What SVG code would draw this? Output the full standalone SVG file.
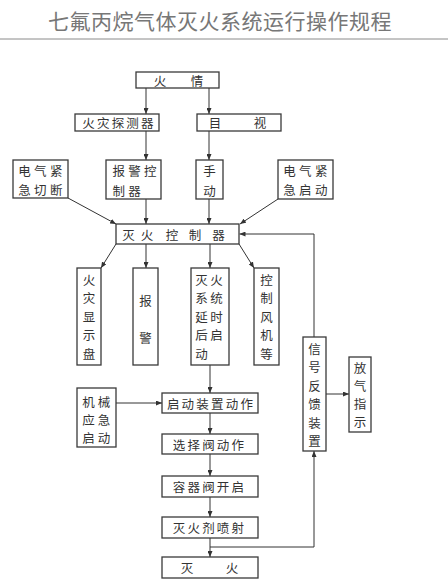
<svg xmlns="http://www.w3.org/2000/svg" width="448" height="588" viewBox="0 0 448 588">
<defs>
<marker id="arr" viewBox="0 0 6 5" refX="6" refY="2.5" markerWidth="6" markerHeight="5" markerUnits="userSpaceOnUse" orient="auto">
<path d="M0,0 L6,2.5 L0,5 z" fill="#333"/>
</marker>
<style>
.box{fill:#fff;stroke:#3a3a3a;stroke-width:1.3}
.t{font-family:"Noto Sans CJK SC","Noto Sans",sans-serif;font-size:12.5px;fill:#333;dominant-baseline:central}
.c{text-anchor:middle}
.ls{letter-spacing:3.3px}
.ls1{letter-spacing:2.2px}
.ln{fill:none;stroke:#333;stroke-width:1;marker-end:url(#arr)}
.title{font-family:"Noto Sans CJK SC","Noto Sans",sans-serif;font-size:21px;fill:#777;text-anchor:middle;letter-spacing:0.5px}
</style>
</defs>
<rect width="448" height="588" fill="#fff"/>
<text class="title" x="220" y="29">七氟丙烷气体灭火系统运行操作规程</text>
<line x1="0" y1="39" x2="448" y2="39" stroke="#8a8a8a" stroke-width="1"/>

<g id="connectors">
<path class="ln" d="M146 88 V114"/>
<path class="ln" d="M209 88 V114"/>
<path class="ln" d="M146 131 V160"/>
<path class="ln" d="M209 131 V160"/>
<path class="ln" d="M68 198 L116 224"/>
<path class="ln" d="M146 199 V224"/>
<path class="ln" d="M209 199 V224"/>
<path class="ln" d="M278 199 L240 224"/>
<path class="ln" d="M314 337 V234 H239.5"/>
<path class="ln" d="M116 244 L101 268"/>
<path class="ln" d="M146 244 V268"/>
<path class="ln" d="M210 244 V268"/>
<path class="ln" d="M239 244 L254 268"/>
<path class="ln" d="M210 365 V393"/>
<path class="ln" d="M116 403 H162"/>
<path class="ln" d="M210 413 V434"/>
<path class="ln" d="M210 454 V476"/>
<path class="ln" d="M210 497 V517"/>
<path class="ln" d="M210 538 V557"/>
<path class="ln" d="M210 547 H314 V451"/>
<path class="ln" d="M326 394 H349"/>
</g>

<g id="huoqing">
<rect class="box" x="136" y="72" width="83" height="16"/>
<text class="t c" x="160" y="80">火</text>
<text class="t c" x="197" y="80">情</text>
</g>
<g id="tanceqi">
<rect class="box" x="75" y="114" width="84" height="17"/>
<text class="t c ls1" x="119" y="122.5">火灾探测器</text>
</g>
<g id="mushi">
<rect class="box" x="197" y="114" width="84" height="17"/>
<text class="t c" x="215" y="122.5">目</text>
<text class="t c" x="260" y="122.5">视</text>
</g>
<g id="qieduan">
<rect class="box" x="13" y="160" width="55" height="38"/>
<text class="t c ls" x="42" y="170">电气紧</text>
<text class="t c ls" x="42" y="189">急切断</text>
</g>
<g id="baojingkzq">
<rect class="box" x="106" y="160" width="55" height="39"/>
<text class="t ls" x="112.5" y="170">报警控</text>
<text class="t ls" x="112.5" y="190">制器</text>
</g>
<g id="shoudong">
<rect class="box" x="196" y="160" width="27" height="39"/>
<text class="t c" x="209.5" y="170">手</text>
<text class="t c" x="209.5" y="190">动</text>
</g>
<g id="jijiqidong">
<rect class="box" x="278" y="160" width="55" height="39"/>
<text class="t c ls" x="307" y="170">电气紧</text>
<text class="t c ls" x="307" y="189">急启动</text>
</g>
<g id="miehuokongzhiqi">
<rect class="box" x="116" y="224" width="123" height="20"/>
<text class="t c" x="128.5" y="234">灭</text>
<text class="t c" x="147" y="234">火</text>
<text class="t c" x="172" y="234">控</text>
<text class="t c" x="195" y="234">制</text>
<text class="t c" x="218.5" y="234">器</text>
</g>
<g id="xianshipan">
<rect class="box" x="77" y="268" width="24" height="97"/>
<text class="t c" x="89" y="279">火</text>
<text class="t c" x="89" y="297.5">灾</text>
<text class="t c" x="89" y="316">显</text>
<text class="t c" x="89" y="334.5">示</text>
<text class="t c" x="89" y="353">盘</text>
</g>
<g id="baojing">
<rect class="box" x="133" y="268" width="25" height="97"/>
<text class="t c" x="145.5" y="300">报</text>
<text class="t c" x="145.5" y="337">警</text>
</g>
<g id="yanshi">
<rect class="box" x="191" y="268" width="38" height="97"/>
<text class="t c" x="201.5" y="279">灭</text>
<text class="t c" x="216.5" y="279">火</text>
<text class="t c" x="201.5" y="297.5">系</text>
<text class="t c" x="216.5" y="297.5">统</text>
<text class="t c" x="201.5" y="316">延</text>
<text class="t c" x="216.5" y="316">时</text>
<text class="t c" x="201.5" y="334.5">后</text>
<text class="t c" x="216.5" y="334.5">启</text>
<text class="t c" x="201.5" y="353">动</text>
</g>
<g id="fengji">
<rect class="box" x="254" y="268" width="25" height="97"/>
<text class="t c" x="266.5" y="279">控</text>
<text class="t c" x="266.5" y="297.5">制</text>
<text class="t c" x="266.5" y="316">风</text>
<text class="t c" x="266.5" y="334.5">机</text>
<text class="t c" x="266.5" y="353">等</text>
</g>
<g id="jixie">
<rect class="box" x="77" y="388" width="39" height="59"/>
<text class="t c" x="88.5" y="401">机</text>
<text class="t c" x="104" y="401">械</text>
<text class="t c" x="88.5" y="419">应</text>
<text class="t c" x="104" y="419">急</text>
<text class="t c" x="88.5" y="437">启</text>
<text class="t c" x="104" y="437">动</text>
</g>
<g id="qidongzhuangzhi">
<rect class="box" x="162" y="393" width="96" height="20"/>
<text class="t c ls1" x="211" y="403">启动装置动作</text>
</g>
<g id="xuanzefa">
<rect class="box" x="162" y="434" width="96" height="20"/>
<text class="t c ls1" x="209.5" y="444">选择阀动作</text>
</g>
<g id="rongqifa">
<rect class="box" x="162" y="476" width="96" height="21"/>
<text class="t c ls1" x="209.5" y="486.5">容器阀开启</text>
</g>
<g id="penshe">
<rect class="box" x="162" y="517" width="96" height="21"/>
<text class="t c ls1" x="209.5" y="527.5">灭火剂喷射</text>
</g>
<g id="miehuo">
<rect class="box" x="162" y="557" width="96" height="21"/>
<text class="t c" x="187" y="567.5">灭</text>
<text class="t c" x="232" y="567.5">火</text>
</g>
<g id="xinhaofankui">
<rect class="box" x="303" y="337" width="23" height="114"/>
<text class="t c" x="314.5" y="348">信</text>
<text class="t c" x="314.5" y="366.5">号</text>
<text class="t c" x="314.5" y="385">反</text>
<text class="t c" x="314.5" y="403.5">馈</text>
<text class="t c" x="314.5" y="422">装</text>
<text class="t c" x="314.5" y="440.5">置</text>
</g>
<g id="fangqizhishi">
<rect class="box" x="349" y="357" width="22" height="75"/>
<text class="t c" x="360" y="367.5">放</text>
<text class="t c" x="360" y="385.5">气</text>
<text class="t c" x="360" y="403.5">指</text>
<text class="t c" x="360" y="421.5">示</text>
</g>
</svg>
